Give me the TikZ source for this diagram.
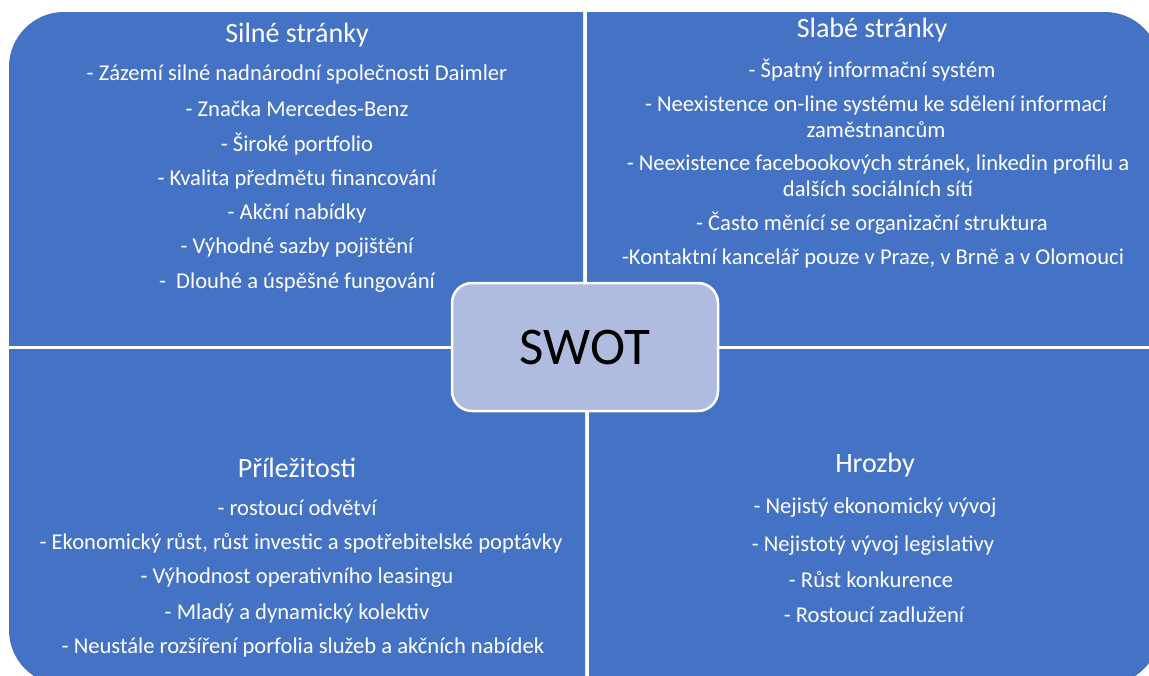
\documentclass[tikz,border=0pt]{standalone}
\usepackage{fontspec}
\setmainfont{Carlito}
\definecolor{qblue}{HTML}{4472C4}
\definecolor{cblue}{HTML}{AFBCDF}
\tikzset{
  quad/.style={fill=qblue},
  ttl/.style={text=white, font=\fontsize{28}{32}\selectfont, anchor=center, inner sep=0pt},
  itm/.style={text=white, font=\fontsize{22.6}{25.5}\selectfont, anchor=center, inner sep=0pt, align=center},
  swot/.style={fill=cblue, draw=white, line width=2.5pt, rounded corners=20pt, minimum width=266pt, minimum height=128pt, font=\fontsize{53}{62}\selectfont, text=black}
}
\begin{document}
\begin{tikzpicture}[x=1pt,y=-1pt]
\useasboundingbox (0,0) rectangle (1149,675);
\clip (0,0) rectangle (1149,675);
\fill[white] (0,0) rectangle (1149,675);
% quadrants
\begin{scope}\clip (0,0) rectangle (583,345);
\fill[quad, rounded corners=55pt] (9,12) rectangle (800,700);\end{scope}
\begin{scope}\clip (587,0) rectangle (1149,345);
\fill[quad, rounded corners=55pt] (300,12) rectangle (1160,700);\end{scope}
\begin{scope}\clip (0,349) rectangle (585,675);
\fill[quad, rounded corners=55pt] (9,0) rectangle (800,685);\end{scope}
\begin{scope}\clip (589,349) rectangle (1149,675);
\fill[quad, rounded corners=55pt] (300,0) rectangle (1160,685);\end{scope}
% Silné stránky
\node[ttl] (s0) at (297,35) {Silné stránky};
\node[itm] (s1) at (297,74) {- Zázemí silné nadnárodní společnosti Daimler};
\node[itm] (s2) at (297,109) {- Značka Mercedes-Benz};
\node[itm] (s3) at (297,144) {- Široké portfolio};
\node[itm] (s4) at (297,179) {- Kvalita předmětu financování};
\node[itm] (s5) at (297,213) {- Akční nabídky};
\node[itm] (s6) at (297,248) {- Výhodné sazby pojištění};
\node[itm] (s7) at (297,283) {-\ \ Dlouhé a úspěšné fungování};
% Slabé stránky
\node[ttl] (w0) at (872,30) {Slabé stránky};
\node[itm] (w1) at (872,70) {- Špatný informační systém};
\node[itm] (w2) at (876,116.5) {- Neexistence on-line systému ke sdělení informací\\zaměstnancům};
\node[itm] (w3) at (878,175.5) {- Neexistence facebookových stránek, linkedin profilu a\\dalších sociálních sítí};
\node[itm] (w4) at (872,223) {- Často měnící se organizační struktura};
\node[itm] (w5) at (873,258) {-Kontaktní kancelář pouze v Praze, v Brně a v Olomouci};
% Příležitosti
\node[ttl] (o0) at (297,468) {Příležitosti};
\node[itm] (o1) at (297,508) {- rostoucí odvětví};
\node[itm] (o2) at (301,543) {- Ekonomický růst, růst investic a spotřebitelské poptávky};
\node[itm] (o3) at (297,578) {- Výhodnost operativního leasingu};
\node[itm] (o4) at (297,613) {- Mladý a dynamický kolektiv};
\node[itm] (o5) at (303,647) {- Neustále rozšíření porfolia služeb a akčních nabídek};
% Hrozby
\node[ttl] (t0) at (875,465) {Hrozby};
\node[itm] (t1) at (875,508) {- Nejistý ekonomický vývoj};
\node[itm] (t2) at (873,546) {- Nejistotý vývoj legislativy};
\node[itm] (t3) at (871,580) {- Růst konkurence};
\node[itm] (t4) at (874,615) {- Rostoucí zadlužení};
% center
\node[swot] (c) at (585,347) {SWOT};
\end{tikzpicture}
\end{document}
